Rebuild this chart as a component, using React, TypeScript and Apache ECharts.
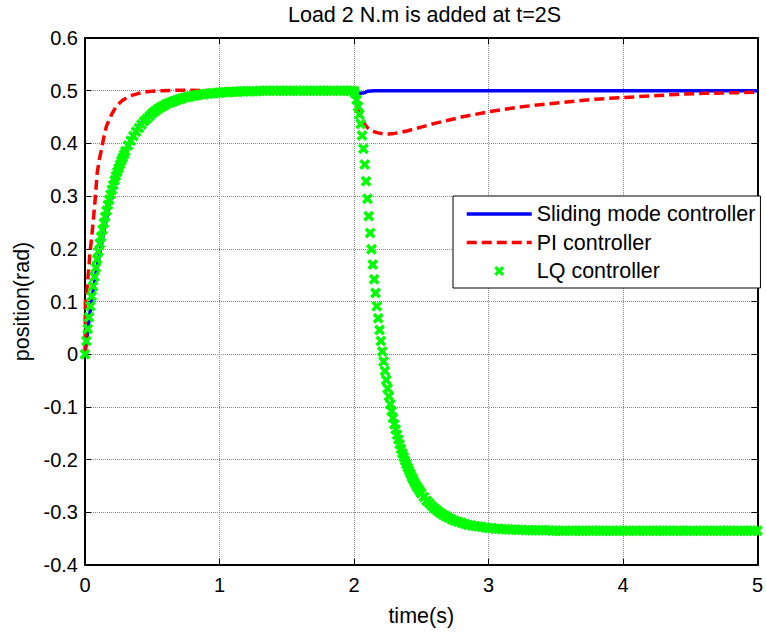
import React, { useEffect, useRef } from "react";
import * as echarts from "echarts";

const titleText = "Load 2 N.m is added at t=2S";
const xName = "time(s)";
const yName = "position(rad)";
const seriesNames = ["Sliding mode controller", "PI controller", "LQ controller"];

const smcData: [number, number][] = [
  [0, 0], [0.02, 0.045], [0.04, 0.085], [0.06, 0.118], [0.08, 0.15], [0.1, 0.178],
  [0.12, 0.205], [0.14, 0.233], [0.16, 0.258], [0.18, 0.282], [0.2, 0.303], [0.25, 0.348],
  [0.3, 0.382], [0.35, 0.41], [0.4, 0.432], [0.45, 0.449], [0.5, 0.462], [0.6, 0.479],
  [0.7, 0.489], [0.8, 0.495], [0.9, 0.498], [1.0, 0.499], [1.2, 0.5], [2.0, 0.5],
  [2.01, 0.496], [2.05, 0.495], [2.08, 0.496], [2.1, 0.499], [2.15, 0.5], [5, 0.5],
];

const piData: [number, number][] = [
  [0, 0], [0.003, 0.105], [0.012, 0.115], [0.024, 0.15], [0.036, 0.19], [0.049, 0.22],
  [0.062, 0.255], [0.074, 0.289], [0.091, 0.345], [0.107, 0.37], [0.123, 0.389],
  [0.14, 0.412], [0.16, 0.433], [0.2, 0.456], [0.234, 0.471], [0.28, 0.482], [0.333, 0.49],
  [0.4, 0.495], [0.456, 0.498], [0.55, 0.5], [0.7, 0.501], [1.0, 0.5], [2.0, 0.5],
  [2.02, 0.485], [2.04, 0.462], [2.06, 0.446], [2.08, 0.436], [2.1, 0.43], [2.14, 0.423],
  [2.18, 0.42], [2.22, 0.418], [2.26, 0.418], [2.3, 0.419], [2.35, 0.421], [2.4, 0.424],
  [2.5, 0.431], [2.6, 0.438], [2.7, 0.444], [2.8, 0.45], [2.9, 0.455], [3.0, 0.46],
  [3.2, 0.468], [3.4, 0.474], [3.6, 0.479], [3.8, 0.484], [4.0, 0.487], [4.2, 0.49],
  [4.4, 0.493], [4.6, 0.495], [4.8, 0.496], [5.0, 0.497],
];

const lqData: [number, number][] = [
  [0.0, 0.0], [0.01, 0.025], [0.02, 0.048], [0.03, 0.07], [0.04, 0.091], [0.05, 0.11],
  [0.06, 0.129], [0.07, 0.147], [0.08, 0.164], [0.09, 0.18], [0.1, 0.195], [0.11, 0.21],
  [0.12, 0.223], [0.13, 0.236], [0.14, 0.249], [0.15, 0.261], [0.16, 0.272], [0.17, 0.283],
  [0.18, 0.293], [0.19, 0.303], [0.2, 0.312], [0.21, 0.321], [0.22, 0.33], [0.23, 0.338],
  [0.24, 0.346], [0.25, 0.353], [0.26, 0.36], [0.27, 0.367], [0.28, 0.373], [0.29, 0.379],
  [0.3, 0.385], [0.32, 0.396], [0.34, 0.405], [0.36, 0.414], [0.38, 0.422], [0.4, 0.429],
  [0.42, 0.436], [0.44, 0.442], [0.46, 0.447], [0.48, 0.452], [0.5, 0.457], [0.52, 0.461],
  [0.54, 0.465], [0.56, 0.468], [0.58, 0.471], [0.6, 0.474], [0.62, 0.476], [0.64, 0.478],
  [0.66, 0.48], [0.68, 0.482], [0.7, 0.484], [0.72, 0.485], [0.74, 0.487], [0.76, 0.488],
  [0.78, 0.489], [0.8, 0.49], [0.82, 0.491], [0.84, 0.492], [0.86, 0.493], [0.88, 0.493],
  [0.9, 0.494], [0.92, 0.494], [0.94, 0.495], [0.96, 0.495], [0.98, 0.496], [1.0, 0.496],
  [1.02, 0.497], [1.04, 0.497], [1.06, 0.497], [1.08, 0.498], [1.1, 0.498], [1.12, 0.498],
  [1.14, 0.498], [1.16, 0.499], [1.18, 0.499], [1.2, 0.499], [1.225, 0.499], [1.25, 0.499],
  [1.275, 0.499], [1.3, 0.5], [1.325, 0.5], [1.35, 0.5], [1.375, 0.5], [1.4, 0.5],
  [1.425, 0.5], [1.45, 0.5], [1.475, 0.5], [1.5, 0.5], [1.525, 0.5], [1.55, 0.5],
  [1.575, 0.5], [1.6, 0.5], [1.625, 0.5], [1.65, 0.5], [1.675, 0.5], [1.7, 0.5],
  [1.725, 0.5], [1.75, 0.5], [1.775, 0.5], [1.8, 0.5], [1.825, 0.5], [1.85, 0.5],
  [1.875, 0.5], [1.9, 0.5], [1.925, 0.5], [1.95, 0.5], [1.975, 0.5], [2.0, 0.5],
  [2.01, 0.494], [2.02, 0.483], [2.03, 0.47], [2.04, 0.455], [2.05, 0.437], [2.06, 0.415],
  [2.07, 0.39], [2.08, 0.36], [2.09, 0.328], [2.1, 0.295], [2.11, 0.262], [2.12, 0.23],
  [2.13, 0.199], [2.14, 0.17], [2.15, 0.142], [2.16, 0.116], [2.17, 0.091], [2.18, 0.068],
  [2.19, 0.046], [2.2, 0.025], [2.21, 0.005], [2.22, -0.014], [2.23, -0.032], [2.24, -0.049],
  [2.25, -0.065], [2.26, -0.08], [2.27, -0.095], [2.28, -0.108], [2.29, -0.121], [2.3, -0.133],
  [2.31, -0.143], [2.32, -0.153], [2.33, -0.162], [2.34, -0.171], [2.35, -0.18], [2.36, -0.188],
  [2.37, -0.195], [2.38, -0.202], [2.39, -0.209], [2.4, -0.215], [2.41, -0.221], [2.42, -0.227],
  [2.43, -0.233], [2.44, -0.238], [2.45, -0.243], [2.46, -0.248], [2.47, -0.252], [2.48, -0.256],
  [2.49, -0.26], [2.5, -0.264], [2.52, -0.271], [2.54, -0.278], [2.56, -0.283], [2.58, -0.288],
  [2.6, -0.293], [2.62, -0.297], [2.64, -0.301], [2.66, -0.304], [2.68, -0.307], [2.7, -0.31],
  [2.725, -0.313], [2.75, -0.316], [2.775, -0.318], [2.8, -0.32], [2.825, -0.322], [2.85, -0.324],
  [2.875, -0.325], [2.9, -0.326], [2.925, -0.327], [2.95, -0.328], [2.975, -0.329], [3.0, -0.33],
  [3.025, -0.33], [3.05, -0.331], [3.075, -0.331], [3.1, -0.332], [3.125, -0.332], [3.15, -0.332],
  [3.175, -0.333], [3.2, -0.333], [3.225, -0.333], [3.25, -0.333], [3.275, -0.334], [3.3, -0.334],
  [3.325, -0.334], [3.35, -0.334], [3.375, -0.334], [3.4, -0.334], [3.425, -0.334], [3.45, -0.334],
  [3.475, -0.335], [3.5, -0.335], [3.525, -0.335], [3.55, -0.335], [3.575, -0.335], [3.6, -0.335],
  [3.625, -0.335], [3.65, -0.335], [3.675, -0.335], [3.7, -0.335], [3.725, -0.335], [3.75, -0.335],
  [3.775, -0.335], [3.8, -0.335], [3.825, -0.335], [3.85, -0.335], [3.875, -0.335], [3.9, -0.335],
  [3.925, -0.335], [3.95, -0.335], [3.975, -0.335], [4.0, -0.335], [4.025, -0.335], [4.05, -0.335],
  [4.075, -0.335], [4.1, -0.335], [4.125, -0.335], [4.15, -0.335], [4.175, -0.335], [4.2, -0.335],
  [4.225, -0.335], [4.25, -0.335], [4.275, -0.335], [4.3, -0.335], [4.325, -0.335], [4.35, -0.335],
  [4.375, -0.335], [4.4, -0.335], [4.425, -0.335], [4.45, -0.335], [4.475, -0.335], [4.5, -0.335],
  [4.525, -0.335], [4.55, -0.335], [4.575, -0.335], [4.6, -0.335], [4.625, -0.335], [4.65, -0.335],
  [4.675, -0.335], [4.7, -0.335], [4.725, -0.335], [4.75, -0.335], [4.775, -0.335], [4.8, -0.335],
  [4.825, -0.335], [4.85, -0.335], [4.875, -0.335], [4.9, -0.335], [4.925, -0.335], [4.95, -0.335],
  [4.975, -0.335], [5.0, -0.335],
];

const FONT = "'Liberation Sans', Arial, Helvetica, sans-serif";
const X_MARK =
  "path://M0,2.3 L2.3,0 L5,2.7 L7.7,0 L10,2.3 L7.3,5 L10,7.7 L7.7,10 L5,7.3 L2.3,10 L0,7.7 L2.7,5 Z";

export default function App() {
  const ref = useRef<HTMLDivElement>(null);
  useEffect(() => {
    const chart = echarts.init(ref.current!, null, { renderer: "svg" });
    const axisLine = { show: true, onZero: false, lineStyle: { color: "#000", width: 2 } };
    const axisTick = { show: true, inside: true, length: 6, lineStyle: { color: "#000", width: 1 } };
    const splitLine = { show: true, lineStyle: { color: "#888", width: 1, type: [1, 1] } };
    const labelStyle = { color: "#000", fontSize: 20, fontFamily: FONT };
    const nameStyle = { color: "#000", fontSize: 21.5, fontFamily: FONT };
    const hiddenIcon = { color: "rgba(0,0,0,0)", borderWidth: 0, opacity: 0 };
    chart.setOption({
      animation: false,
      backgroundColor: "#fff",
      title: {
        text: titleText,
        left: 288,
        top: 4,
        padding: 0,
        textStyle: { ...nameStyle, fontWeight: "normal" },
      },
      grid: { left: 85, right: 5, top: 38, bottom: 62 },
      legend: {
        data: [
          {
            name: seriesNames[0],
            itemStyle: hiddenIcon,
            lineStyle: { color: "#0000ff", width: 3.5 },
          },
          {
            name: seriesNames[1],
            itemStyle: hiddenIcon,
            lineStyle: { color: "#ff0000", width: 3.5, type: [10, 5] },
          },
          { name: seriesNames[2] },
        ],
        orient: "vertical",
        left: 453,
        top: 196,
        itemWidth: 65,
        itemHeight: 10,
        itemGap: 6.5,
        padding: [7, 5, 6, 12],
        backgroundColor: "#fff",
        borderColor: "#000",
        borderWidth: 1,
        borderRadius: 0,
        textStyle: nameStyle,
      },
      xAxis: [
        {
          type: "value",
          min: 0,
          max: 5,
          interval: 1,
          position: "bottom",
          name: xName,
          nameLocation: "middle",
          nameGap: 40,
          nameTextStyle: nameStyle,
          axisLine,
          axisTick,
          axisLabel: { ...labelStyle, margin: 10 },
          splitLine,
        },
        {
          type: "value",
          min: 0,
          max: 5,
          interval: 1,
          position: "top",
          axisLine,
          axisTick,
          axisLabel: { show: false },
          splitLine: { show: false },
        },
      ],
      yAxis: [
        {
          type: "value",
          min: -0.4,
          max: 0.6,
          interval: 0.1,
          position: "left",
          name: yName,
          nameLocation: "middle",
          nameGap: 50,
          nameTextStyle: nameStyle,
          axisLine,
          axisTick,
          axisLabel: {
            ...labelStyle,
            margin: 7,
            formatter: (v: number) => String(Number(v.toFixed(1)) || 0),
          },
          splitLine,
        },
        {
          type: "value",
          min: -0.4,
          max: 0.6,
          interval: 0.1,
          position: "right",
          axisLine,
          axisTick,
          axisLabel: { show: false },
          splitLine: { show: false },
        },
      ],
      series: [
        {
          name: seriesNames[0],
          type: "line",
          data: smcData,
          symbol: "none",
          showSymbol: false,
          lineStyle: { color: "#0000ff", width: 3.5 },
          itemStyle: { color: "#0000ff" },
          z: 2,
        },
        {
          name: seriesNames[1],
          type: "line",
          data: piData,
          symbol: "none",
          showSymbol: false,
          lineStyle: { color: "#ff0000", width: 3.5, type: [10, 5] },
          itemStyle: { color: "#ff0000" },
          z: 3,
        },
        {
          name: seriesNames[2],
          type: "scatter",
          data: lqData,
          symbol: X_MARK,
          symbolSize: 11,
          itemStyle: { color: "#00ff00", opacity: 1 },
          z: 4,
        },
      ],
    });
    return () => chart.dispose();
  }, []);
  return (
    <div
      ref={ref}
      style={{ position: "absolute", left: 0, top: 0, width: 766, height: 632, background: "#fff" }}
    />
  );
}
